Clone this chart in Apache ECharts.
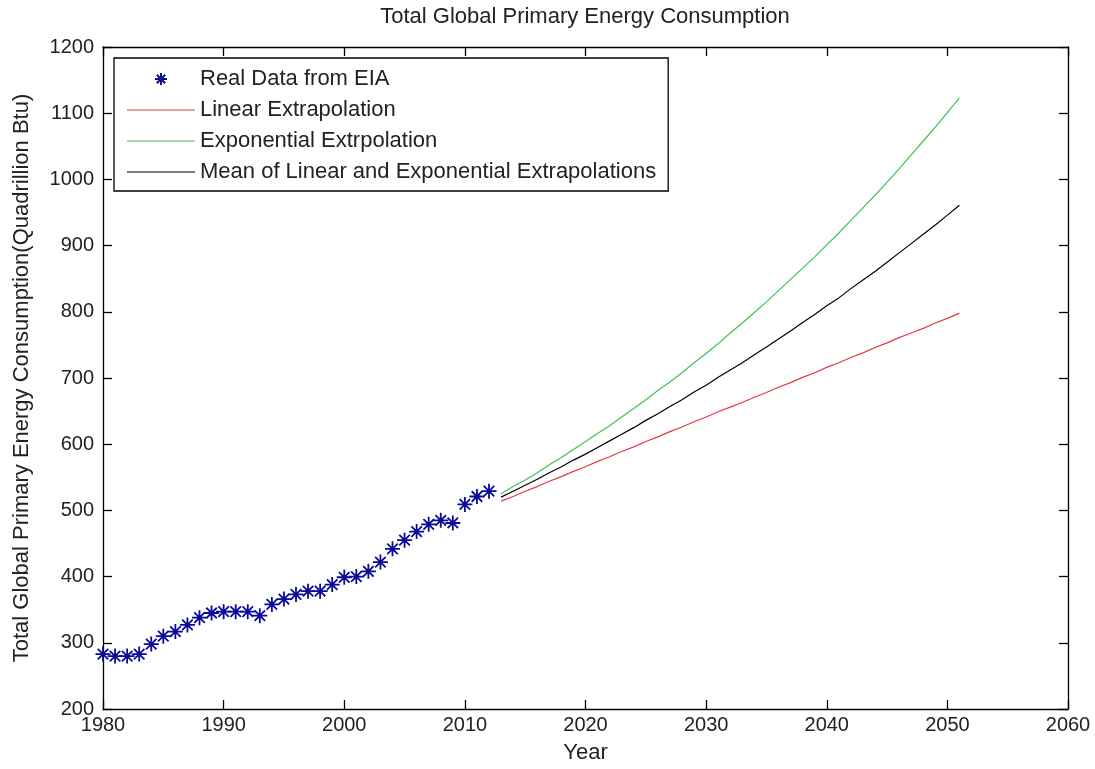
<!DOCTYPE html>
<html>
<head>
<meta charset="utf-8">
<script src="https://cdn.jsdelivr.net/npm/echarts@6/dist/echarts.min.js"></script>
<style>
  html, body { margin: 0; padding: 0; background: #fff; }
  #chart-container { width: 1095px; height: 769px; }
</style>
</head>
<body>
<div id="chart-container"></div>
<script>
// Real data from EIA (1980-2012)
const realYears = [1980, 1981, 1982, 1983, 1984, 1985, 1986, 1987, 1988, 1989,
	1990, 1991, 1992, 1993, 1994, 1995, 1996, 1997, 1998, 1999,
	2000, 2001, 2002, 2003, 2004, 2005, 2006, 2007, 2008, 2009,
	2010, 2011, 2012];
const realValues = [283, 280, 280, 283, 298, 310, 317, 327, 338, 345,
	347, 347, 347, 341, 358, 366, 373, 378, 378, 388,
	399, 400, 408, 422, 442, 455, 468, 479, 485, 481,
	509, 521, 529];

// Extrapolations (2013-2051)
const extraYears = [2013, 2014, 2015, 2016, 2017, 2018, 2019, 2020, 2021, 2022,
	2023, 2024, 2025, 2026, 2027, 2028, 2029, 2030, 2031, 2032,
	2033, 2034, 2035, 2036, 2037, 2038, 2039, 2040, 2041, 2042,
	2043, 2044, 2045, 2046, 2047, 2048, 2049, 2050, 2051];
const linearValues = [514, 521, 529, 536, 544, 551, 559, 566, 574, 581,
	589, 596, 604, 611, 619, 626, 634, 641, 649, 656,
	663, 671, 678, 686, 693, 701, 708, 716, 723, 731,
	738, 746, 753, 761, 768, 775, 783, 790, 798];
const expValues = [525, 536, 546, 557, 569, 580, 592, 604, 616, 628,
	641, 654, 667, 681, 694, 708, 723, 737, 752, 768,
	783, 799, 815, 832, 849, 866, 883, 901, 919, 938,
	957, 976, 996, 1016, 1037, 1058, 1079, 1101, 1123];
const meanValues = [520, 529, 538, 547, 557, 566, 576, 585, 595, 605,
	615, 625, 636, 646, 657, 667, 679, 689, 701, 712,
	723, 735, 747, 759, 771, 784, 796, 809, 821, 835,
	848, 861, 875, 889, 903, 917, 931, 946, 961];

const seriesNames = ['Real Data from EIA', 'Linear Extrapolation', 'Exponential Extrpolation', 'Mean of Linear and Exponential Extrapolations'];

const FONT = "'Liberation Sans', Arial, sans-serif";
// MATLAB-like '*' marker
const asterisk = 'path://M0,-10 L0,10 M-10,0 L10,0 M-7,-7 L7,7 M-7,7 L7,-7';
// plain line for the legend (zero-area subpaths keep the 68x12 box)
const legendLine = 'path://M0,0 L0.01,0 M0,5.4 L68,5.4 L68,6.6 L0,6.6 Z M0,12 L0.01,12';

const pairs = (xs, ys) => xs.map((x, i) => [x, ys[i]]);

const axisCommon = {
	type: 'value',
	axisLine: { show: true, onZero: false, lineStyle: { color: '#000', width: 1.3 } },
	axisTick: { show: true, inside: true, length: 9, lineStyle: { color: '#000', width: 1.3 } },
	splitLine: { show: false }
};

const myChart = echarts.init(document.getElementById('chart-container'));
const option = {
	backgroundColor: '#fff',
	animation: false,
	textStyle: { fontFamily: FONT },
	title: {
		text: 'Total Global Primary Energy Consumption',
		left: 585,
		textAlign: 'center',
		top: 6,
		padding: 0,
		textStyle: { fontFamily: FONT, fontSize: 22, fontWeight: 'normal', color: '#222' }
	},
	grid: { left: 103, right: 27, top: 47, bottom: 58 },
	legend: {
		orient: 'vertical',
		left: 114,
		top: 58,
		padding: [9, 12, 7, 13],
		itemWidth: 68,
		itemHeight: 12,
		itemGap: 7,
		backgroundColor: '#fff',
		borderColor: '#000',
		borderWidth: 1.3,
		textStyle: { fontFamily: FONT, fontSize: 22, color: '#222', lineHeight: 24 },
		data: [
			{ name: seriesNames[0] },
			{ name: seriesNames[1], icon: legendLine },
			{ name: seriesNames[2], icon: legendLine },
			{ name: seriesNames[3], icon: legendLine }
		]
	},
	xAxis: [
		Object.assign({}, axisCommon, {
			position: 'bottom',
			min: 1980, max: 2060, interval: 10,
			name: 'Year',
			nameLocation: 'middle',
			nameGap: 33,
			nameTextStyle: { fontFamily: FONT, fontSize: 22, color: '#222' },
			axisLabel: { margin: 6, fontFamily: FONT, fontSize: 20, color: '#222', formatter: v => String(v) }
		}),
		Object.assign({}, axisCommon, {
			position: 'top',
			min: 1980, max: 2060, interval: 10,
			axisLabel: { show: false }
		})
	],
	yAxis: [
		Object.assign({}, axisCommon, {
			position: 'left',
			min: 200, max: 1200, interval: 100,
			name: 'Total Global Primary Energy Consumption(Quadrillion Btu)',
			nameLocation: 'middle',
			nameRotate: 90,
			nameGap: 70,
			nameTextStyle: { fontFamily: FONT, fontSize: 22, color: '#222' },
			axisLabel: { margin: 9, fontFamily: FONT, fontSize: 20, color: '#222', formatter: v => String(v) }
		}),
		Object.assign({}, axisCommon, {
			position: 'right',
			min: 200, max: 1200, interval: 100,
			axisLabel: { show: false }
		})
	],
	series: [
		{
			name: seriesNames[0],
			type: 'scatter',
			data: pairs(realYears, realValues),
			symbol: asterisk,
			symbolSize: 15,
			symbolKeepAspect: true,
			itemStyle: { color: '#0a0a96', borderColor: '#0a0a96', borderWidth: 1.8, opacity: 1 }
		},
		{
			name: seriesNames[1],
			type: 'line',
			data: pairs(extraYears, linearValues),
			symbol: 'none',
			symbolKeepAspect: true,
			lineStyle: { color: '#e23a48', width: 1.2 },
			itemStyle: { color: '#e23a48' }
		},
		{
			name: seriesNames[2],
			type: 'line',
			data: pairs(extraYears, expValues),
			symbol: 'none',
			symbolKeepAspect: true,
			lineStyle: { color: '#3cc44e', width: 1.2 },
			itemStyle: { color: '#3cc44e' }
		},
		{
			name: seriesNames[3],
			type: 'line',
			data: pairs(extraYears, meanValues),
			symbol: 'none',
			symbolKeepAspect: true,
			lineStyle: { color: '#000', width: 1.2 },
			itemStyle: { color: '#000' }
		}
	]
};

myChart.setOption(option);
</script>
</body>
</html>
